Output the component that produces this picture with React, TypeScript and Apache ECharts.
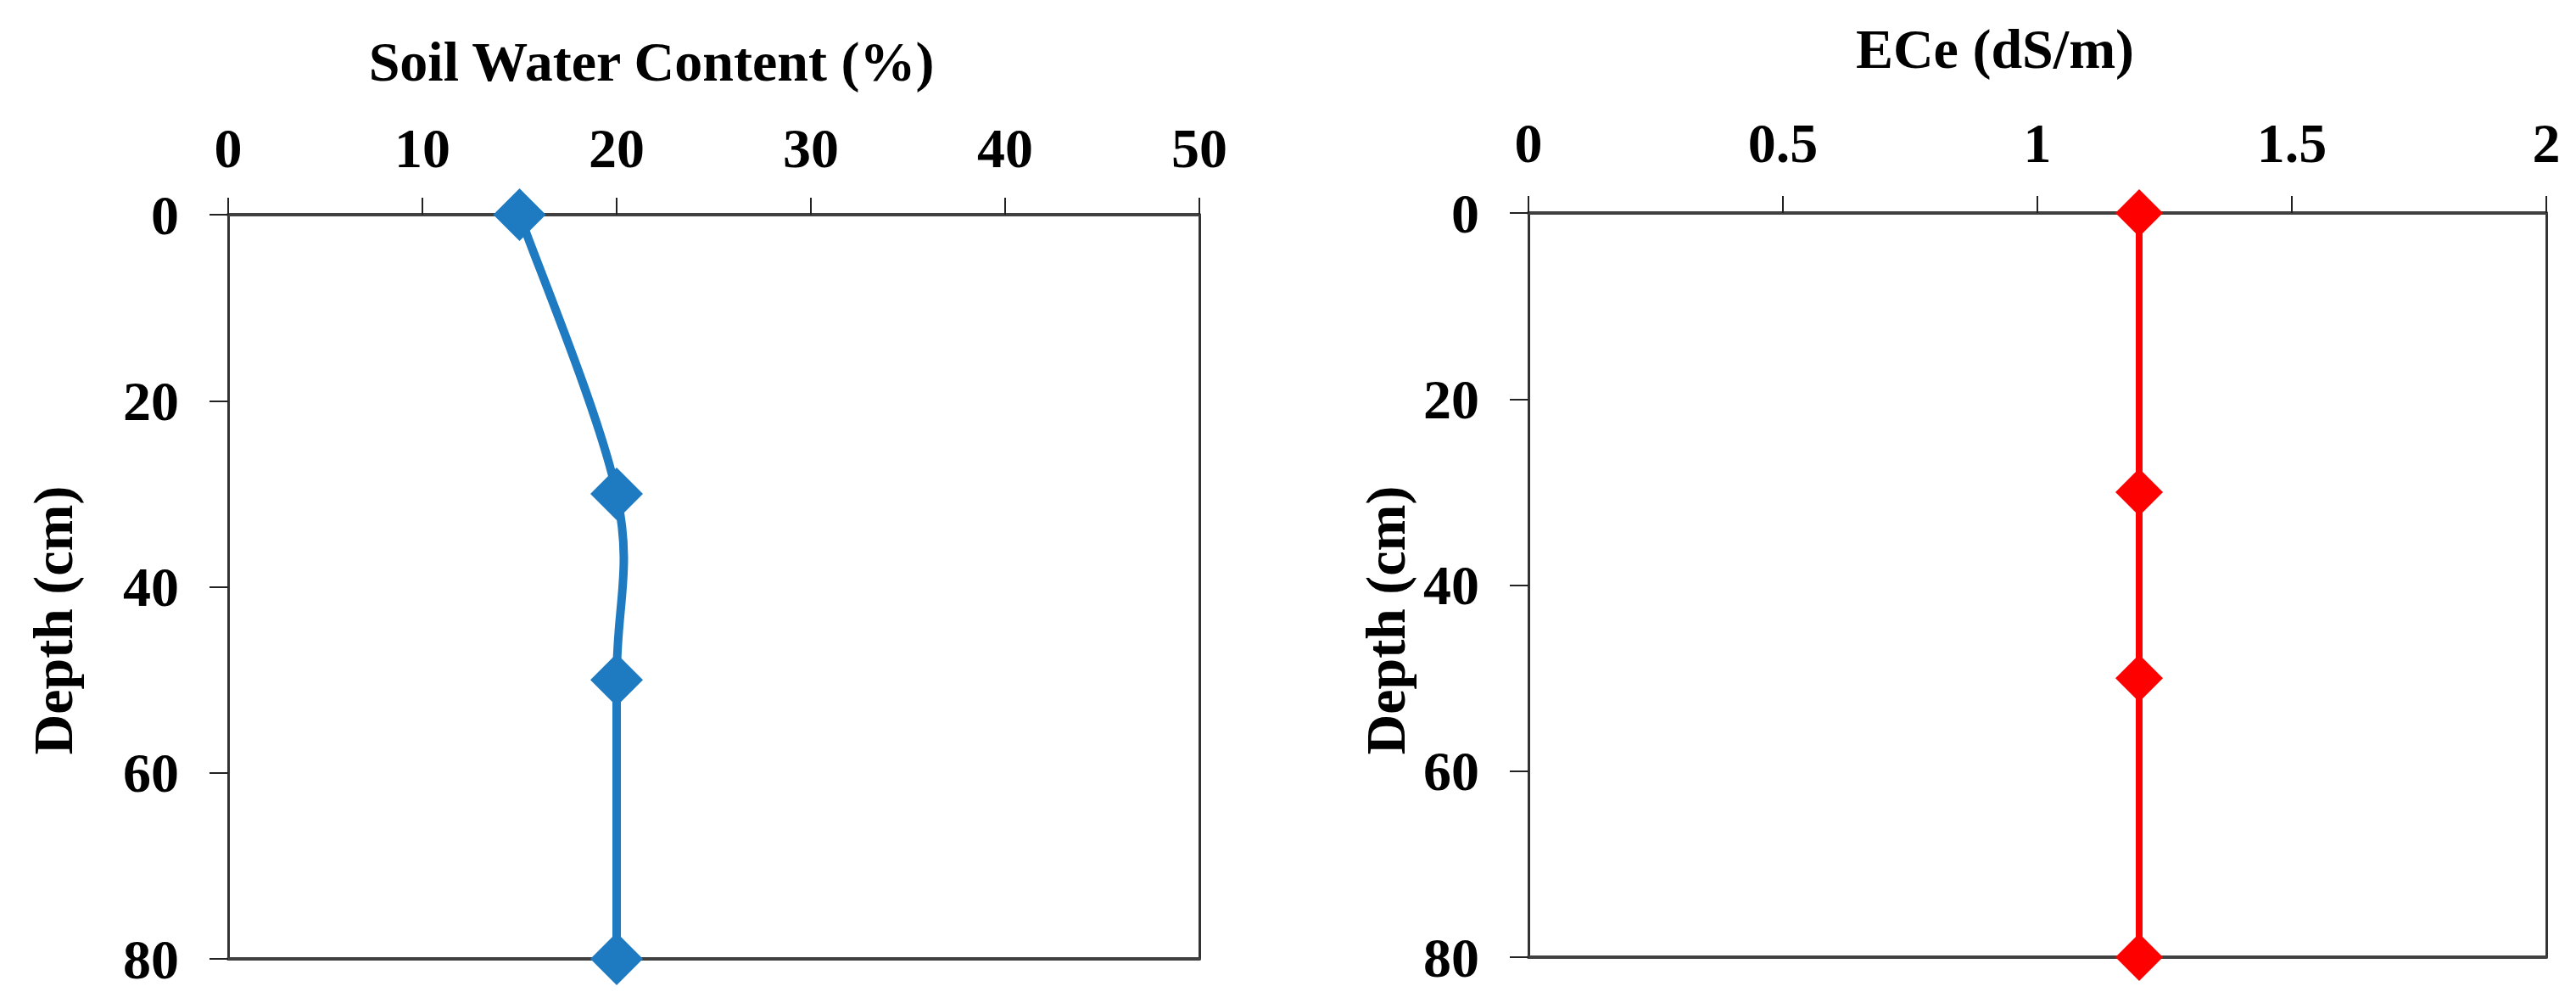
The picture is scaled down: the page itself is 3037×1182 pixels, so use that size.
import React, { useEffect, useRef } from "react";
import * as echarts from "echarts";

const depthCm = [0, 30, 50, 80];
const soilWaterContent = [15, 20, 20, 20];
const eceValues = [1.2, 1.2, 1.2, 1.2];

const leftTitle = "Soil Water Content (%)";
const rightTitle = "ECe (dS/m)";
const depthTitle = "Depth (cm)";

const FONT = "'Liberation Serif', 'Times New Roman', serif";
const FS = 66;
const BLUE = "#1F7BC1";
const RED = "#FF0000";

export default function App() {
  const ref = useRef<HTMLDivElement>(null);
  useEffect(() => {
    document.body.style.margin = "0";
    const chart = echarts.init(ref.current!, null, { renderer: "svg" });
    const labelStyle = { fontFamily: FONT, fontWeight: "bold", fontSize: FS, color: "#000" };
    const axisColor = "#404040";
    const topAxis = (gridIndex: number, max: number, interval: number, margin: number) => ({
      type: "value",
      gridIndex,
      position: "top",
      min: 0,
      max,
      interval,
      axisLine: { show: true, onZero: false, lineStyle: { color: axisColor, width: 4 } },
      axisTick: { show: true, inside: false, length: 20, lineStyle: { color: "#222", width: 2 } },
      axisLabel: { ...labelStyle, margin },
      splitLine: { show: false },
    });
    const bottomAxis = (gridIndex: number, max: number) => ({
      type: "value",
      gridIndex,
      position: "bottom",
      min: 0,
      max,
      axisLine: { show: true, onZero: false, lineStyle: { color: axisColor, width: 4 } },
      axisTick: { show: false },
      axisLabel: { show: false },
      splitLine: { show: false },
    });
    const leftAxis = (gridIndex: number) => ({
      type: "value",
      gridIndex,
      position: "left",
      inverse: true,
      min: 0,
      max: 80,
      interval: 20,
      axisLine: { show: true, onZero: false, lineStyle: { color: "#333", width: 3 } },
      axisTick: { show: true, inside: false, length: 22, lineStyle: { color: "#222", width: 2 } },
      axisLabel: { ...labelStyle, margin: 58 },
      splitLine: { show: false },
    });
    const rightAxis = (gridIndex: number) => ({
      type: "value",
      gridIndex,
      position: "right",
      inverse: true,
      min: 0,
      max: 80,
      axisLine: { show: true, onZero: false, lineStyle: { color: "#333", width: 3 } },
      axisTick: { show: false },
      axisLabel: { show: false },
      splitLine: { show: false },
    });
    const textStyle = { fontFamily: FONT, fontWeight: "bold", fontSize: FS, fill: "#000" };
    const waterPoints = depthCm.map((d, i) => [soilWaterContent[i], d]);
    const ecePoints = depthCm.map((d, i) => [eceValues[i], d]);

    // Excel-like smoothed line (Catmull-Rom Bezier segments), positioned via api.coord
    const smoothRender = (params: any, api: any) => {
      const i = params.dataIndex;
      const n = waterPoints.length;
      if (i >= n - 1) return { type: "group", children: [] };
      const P = waterPoints.map((p) => api.coord(p));
      const p0 = P[Math.max(i - 1, 0)];
      const p1 = P[i];
      const p2 = P[i + 1];
      const p3 = P[Math.min(i + 2, n - 1)];
      const k = 1 / 6;
      return {
        type: "bezierCurve",
        shape: {
          x1: p1[0],
          y1: p1[1],
          x2: p2[0],
          y2: p2[1],
          cpx1: p1[0] + (p2[0] - p0[0]) * k,
          cpy1: p1[1] + (p2[1] - p0[1]) * k,
          cpx2: p2[0] - (p3[0] - p1[0]) * k,
          cpy2: p2[1] - (p3[1] - p1[1]) * k,
        },
        style: { fill: "none", stroke: BLUE, lineWidth: 10, lineCap: "round" },
      };
    };

    chart.setOption({
      animation: false,
      backgroundColor: "#fff",
      grid: [
        { left: 269, top: 253, width: 1145, height: 877 },
        { left: 1802, top: 251, width: 1200, height: 877 },
      ],
      xAxis: [topAxis(0, 50, 10, 46), bottomAxis(0, 50), topAxis(1, 2, 0.5, 50), bottomAxis(1, 2)],
      yAxis: [leftAxis(0), rightAxis(0), leftAxis(1), rightAxis(1)],
      series: [
        {
          type: "custom",
          xAxisIndex: 0,
          yAxisIndex: 0,
          data: waterPoints,
          clip: false,
          renderItem: smoothRender,
          z: 3,
        },
        {
          type: "scatter",
          xAxisIndex: 0,
          yAxisIndex: 0,
          data: waterPoints,
          clip: false,
          symbol: "diamond",
          symbolSize: 62,
          itemStyle: { color: BLUE, opacity: 1 },
          z: 4,
        },
        {
          type: "line",
          xAxisIndex: 2,
          yAxisIndex: 2,
          data: ecePoints,
          clip: false,
          symbol: "diamond",
          symbolSize: 56,
          lineStyle: { color: RED, width: 8 },
          itemStyle: { color: RED },
          z: 3,
        },
      ],
      graphic: [
        { type: "text", x: 768, y: 72, style: { ...textStyle, text: leftTitle, textAlign: "center", textVerticalAlign: "middle" } },
        { type: "text", x: 2352, y: 57, style: { ...textStyle, text: rightTitle, textAlign: "center", textVerticalAlign: "middle" } },
        { type: "text", x: 62, y: 731, rotation: Math.PI / 2, style: { ...textStyle, text: depthTitle, textAlign: "center", textVerticalAlign: "middle" } },
        { type: "text", x: 1633, y: 731, rotation: Math.PI / 2, style: { ...textStyle, text: depthTitle, textAlign: "center", textVerticalAlign: "middle" } },
      ],
    });
    return () => chart.dispose();
  }, []);
  return <div ref={ref} style={{ width: 3037, height: 1182 }} />;
}
